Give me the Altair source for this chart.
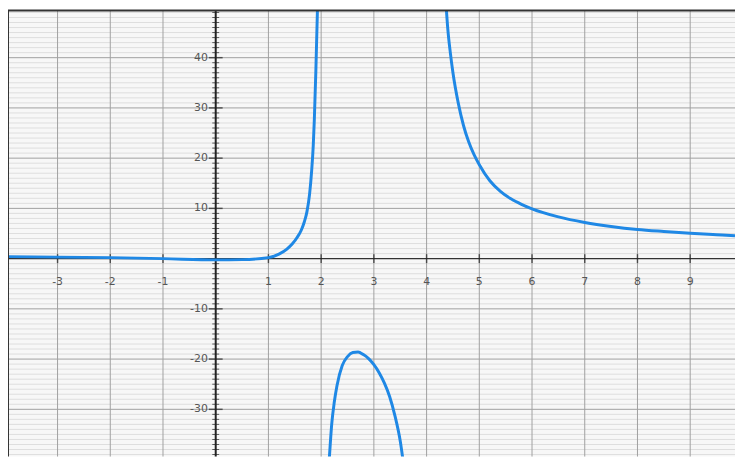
import altair as alt
import pandas as pd

# ---- data ----
left_x = [-3.94, -3.0, -2.0, -1.0, 0.0, 0.5, 1.0, 1.2, 1.35, 1.45, 1.55, 1.62, 1.68, 1.73, 1.78, 1.82, 1.85,
          1.87, 1.9, 1.93, 1.94]
left_y = [0.4, 0.3, 0.2, 0.0, -0.25, -0.2, 0.2, 0.9, 1.9, 2.9, 4.3, 5.6, 7.3, 9.3, 12.8, 17.5, 22.5,
          27.5, 37.5, 49.7, 54.0]

mid_x = [2.14, 2.16, 2.2, 2.25, 2.3, 2.4, 2.5, 2.6, 2.7, 2.8, 2.9, 3.0, 3.1, 3.2, 3.3, 3.4, 3.5, 3.57]
mid_y = [-42.0, -38.9, -33.0, -28.5, -25.3, -21.3, -19.5, -18.7, -18.6, -19.1, -19.9, -21.1, -22.7, -24.8,
         -27.5, -31.3, -36.3, -41.5]

right_x = [4.36, 4.4, 4.45, 4.5, 4.6, 4.7, 4.8, 4.9, 5.0, 5.2, 5.4, 5.6, 5.8, 6.0, 6.5, 7.0, 7.5, 8.0, 8.5,
           9.0, 9.5, 9.85]
right_y = [52.0, 46.0, 41.0, 37.0, 31.0, 26.5, 23.2, 20.7, 18.7, 15.5, 13.4, 11.9, 10.8, 9.9, 8.3, 7.2, 6.4,
           5.8, 5.4, 5.05, 4.75, 4.55]

x_ticks = [-3, -2, -1, 1, 2, 3, 4, 5, 6, 7, 8, 9]
y_major = [-30, -20, -10, 10, 20, 30, 40]
y_minor = [v for v in range(-39, 50) if v % 10 != 0]

X_DOMAIN = [-3.94, 9.85]
Y_DOMAIN = [-39.4, 49.4]

W, H = 735, 451

curve = pd.concat([
    pd.DataFrame({"x": left_x, "y": left_y, "b": "left"}),
    pd.DataFrame({"x": mid_x, "y": mid_y, "b": "mid"}),
    pd.DataFrame({"x": right_x, "y": right_y, "b": "right"}),
])

xs = alt.Scale(domain=X_DOMAIN, nice=False, zero=False)
ys = alt.Scale(domain=Y_DOMAIN, nice=False, zero=False)

def X(f="x"):
    return alt.X(f, type="quantitative", scale=xs, axis=None)

def Y(f="y"):
    return alt.Y(f, type="quantitative", scale=ys, axis=None)

minor_df = pd.DataFrame({"y": y_minor})
major_df = pd.DataFrame({"y": y_major})
vgrid_df = pd.DataFrame({"x": x_ticks})
xt_df = pd.DataFrame({"x": x_ticks, "y": [0] * len(x_ticks), "label": [str(v) for v in x_ticks]})
yt_df = pd.DataFrame({"x": [0] * len(y_major), "y": y_major, "label": [str(v) for v in y_major]})
ymin_df = pd.DataFrame({"x": [0] * len(y_minor), "y": y_minor})
axis_df = pd.DataFrame({"x": [0], "y": [0]})

minor = alt.Chart(minor_df).mark_rule(color="#dedede", strokeWidth=1).encode(y=Y())
major = alt.Chart(major_df).mark_rule(color="#a0a0a0", strokeWidth=1).encode(y=Y())
vgrid = alt.Chart(vgrid_df).mark_rule(color="#a0a0a0", strokeWidth=1).encode(x=X())
xaxis = alt.Chart(axis_df).mark_rule(color="#333333", strokeWidth=1.5).encode(y=Y())
yaxis = alt.Chart(axis_df).mark_rule(color="#222222", strokeWidth=2).encode(x=X())

# frame: top and left edges only (the plot runs off the right and bottom of the picture)
top_edge = alt.Chart(axis_df).mark_rule(color="#333333", strokeWidth=2).encode(
    x=alt.value(0), x2=alt.value(W), y=alt.value(0))
left_edge = alt.Chart(axis_df).mark_rule(color="#333333", strokeWidth=2).encode(
    x=alt.value(0), y=alt.value(0), y2=alt.value(H))

xticks = alt.Chart(xt_df).mark_tick(orient="vertical", size=9, thickness=1.5, color="#222222").encode(x=X(), y=Y())
yminor_ticks = alt.Chart(ymin_df).mark_tick(orient="horizontal", size=7, thickness=1, color="#222222").encode(x=X(), y=Y())
ymajor_ticks = alt.Chart(yt_df).mark_tick(orient="horizontal", size=14, thickness=1.5, color="#222222").encode(x=X(), y=Y())

xlabels = alt.Chart(xt_df).mark_text(dy=24, fontSize=11, color="#555555", font="DejaVu Sans").encode(
    x=X(), y=Y(), text="label:N")
ylabels = alt.Chart(yt_df).mark_text(dx=-8, align="right", baseline="middle", fontSize=11,
                                     color="#555555", font="DejaVu Sans").encode(x=X(), y=Y(), text="label:N")

line = alt.Chart(curve).mark_line(color="#1f88e5", strokeWidth=3, clip=True, interpolate="monotone").encode(
    x=X(), y=Y(), detail="b:N", order="x:Q")

chart = alt.layer(
    minor, major, vgrid, xaxis, yaxis, xticks, yminor_ticks, ymajor_ticks, xlabels, ylabels, line,
    top_edge, left_edge
).properties(
    width=W, height=H,
    autosize=alt.AutoSizeParams(type="none"),
    padding=0,
    background="#ffffff",
).configure_view(strokeWidth=0, fill="#f7f7f7")

chart.save("out.html", embed_options={"renderer": "svg", "actions": False})
